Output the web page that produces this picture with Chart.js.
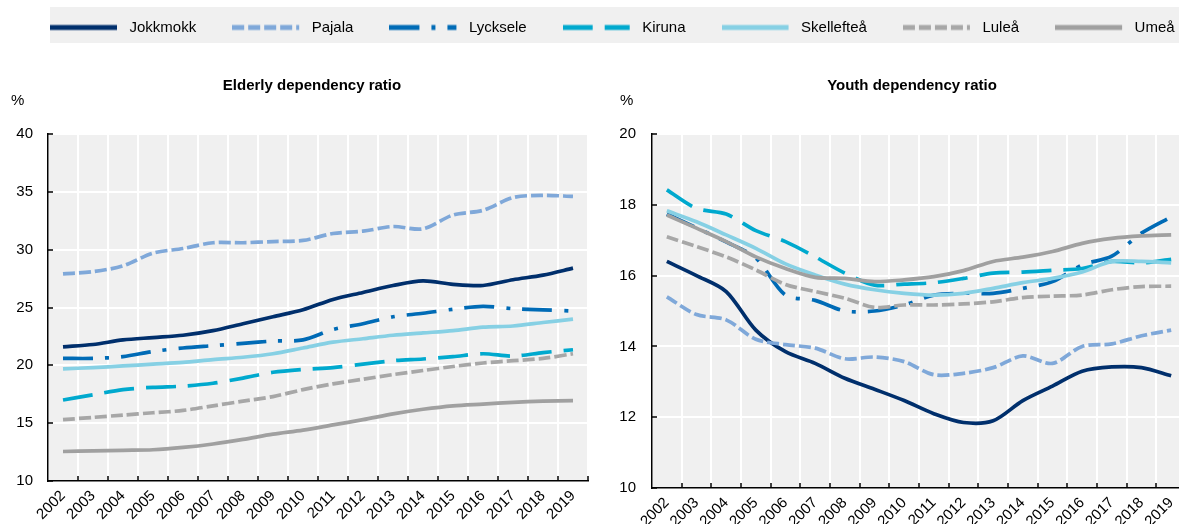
<!DOCTYPE html>
<html><head><meta charset="utf-8">
<script src="https://cdn.jsdelivr.net/npm/chart.js@4/dist/chart.umd.min.js"></script>
<style>
html,body{margin:0;padding:0;width:1179px;height:524px;overflow:hidden;background:#fff}
body{position:relative}
#legBg{position:absolute;left:50px;top:7px;width:1129px;height:36px;background:#f0f0f0}
canvas{position:absolute;display:block}
#leg{left:0;top:-16px}
#c1{left:0;top:50px}
#c2{left:604px;top:50px}
</style></head><body>
<div id="legBg"></div>
<canvas id="c1" width="600" height="474"></canvas>
<canvas id="c2" width="594" height="481"></canvas>
<canvas id="leg" width="1300" height="200"></canvas>
<script>
const years = ['2002','2003','2004','2005','2006','2007','2008','2009','2010','2011','2012','2013','2014','2015','2016','2017','2018','2019'];
const names = ['Jokkmokk','Pajala','Lycksele','Kiruna','Skellefteå','Luleå','Umeå'];

const elderlyJokkmokk  = [21.6,21.8,22.2,22.4,22.6,23.0,23.6,24.2,24.8,25.7,26.3,26.9,27.3,27.0,26.9,27.4,27.8,28.4];
const elderlyPajala    = [27.9,28.1,28.6,29.7,30.1,30.6,30.6,30.7,30.8,31.4,31.6,32.0,31.8,33.0,33.4,34.5,34.7,34.6];
const elderlyLycksele  = [20.6,20.6,20.75,21.2,21.5,21.7,21.9,22.1,22.2,23.1,23.6,24.2,24.5,24.85,25.1,24.9,24.8,24.7];
const elderlyKiruna    = [17.0,17.45,17.9,18.1,18.2,18.45,18.9,19.4,19.65,19.8,20.1,20.4,20.55,20.75,21.0,20.8,21.1,21.35];
const elderlySkelleftea= [19.7,19.8,19.95,20.1,20.25,20.5,20.7,21.0,21.5,22.0,22.3,22.6,22.8,23.0,23.3,23.4,23.7,24.0];
const elderlyLulea     = [15.3,15.5,15.7,15.9,16.1,16.5,16.9,17.3,17.9,18.4,18.8,19.2,19.55,19.9,20.2,20.4,20.6,21.0];
const elderlyUmea      = [12.55,12.6,12.65,12.7,12.9,13.2,13.6,14.05,14.4,14.85,15.3,15.8,16.2,16.5,16.65,16.8,16.9,16.95];

const youthJokkmokk  = [16.4,16.0,15.55,14.46,13.85,13.52,13.1,12.79,12.47,12.1,11.85,11.9,12.47,12.88,13.3,13.42,13.4,13.17];
const youthPajala    = [15.4,14.9,14.75,14.2,14.05,13.95,13.65,13.7,13.57,13.2,13.24,13.4,13.73,13.52,14.0,14.07,14.3,14.46];
const youthLycksele  = [17.74,17.35,16.95,16.5,15.45,15.3,15.0,15.0,15.17,15.45,15.5,15.5,15.64,15.83,16.3,16.55,17.2,17.66];
const youthKiruna    = [18.42,17.9,17.74,17.27,16.96,16.53,16.07,15.73,15.76,15.8,15.92,16.07,16.1,16.15,16.2,16.4,16.36,16.46];
const youthSkelleftea= [17.83,17.52,17.15,16.77,16.33,16.02,15.76,15.6,15.5,15.45,15.5,15.64,15.8,15.92,16.1,16.4,16.4,16.36];
const youthLulea     = [17.1,16.82,16.53,16.16,15.75,15.55,15.36,15.1,15.17,15.17,15.2,15.26,15.38,15.42,15.45,15.6,15.69,15.7];
const youthUmea      = [17.71,17.34,16.96,16.53,16.2,15.95,15.92,15.83,15.88,15.97,16.14,16.4,16.52,16.68,16.91,17.05,17.12,17.15];

const elderlyTicks = {min:10, max:40, step:5};
const youthTicks = {min:10, max:20, step:2};

const colors = ['#002F6C','#7FA8D9','#006BB6','#00A9CE','#86D0E4','#A7A7A7','#A0A0A0'];
const dashes = [[], [12,4], [30,12,4,12], [30,12], [], [12,4], []];

const FONT = "'Liberation Sans', Arial, sans-serif";

function makeDatasets(arrs){
  return arrs.map((d,i)=>({
    label: names[i], data: d, borderColor: colors[i], backgroundColor: colors[i],
    borderWidth: 3.7, borderDash: dashes[i], pointRadius: 0, tension: 0.3, fill: false,
    order: -i
  }));
}

const plotBg = { id:'plotBg', beforeDraw(chart){ const {ctx, chartArea:a} = chart; ctx.save(); ctx.fillStyle='#f0f0f0'; ctx.fillRect(a.left,a.top,a.right-a.left,a.bottom-a.top); ctx.restore(); } };
const innerTicks = { id:'innerTicks', afterDraw(chart){
  const x=chart.scales.x, y=chart.scales.y, ctx=chart.ctx;
  ctx.save(); ctx.strokeStyle='#000'; ctx.lineWidth=1.5; ctx.beginPath();
  for (let i=1;i<=x.ticks.length;i++){ const px=Math.round(x.getPixelForValue(i-0.5)); ctx.moveTo(px, y.bottom); ctx.lineTo(px, y.bottom-5); }
  y.ticks.forEach(t=>{ const py=Math.round(y.getPixelForValue(t.value)); ctx.moveTo(x.left, py); ctx.lineTo(x.left+5, py); });
  ctx.stroke(); ctx.restore(); } };
function shiftTitle(dx){ return { id:'shiftTitle', afterLayout(chart){ if (chart.titleBlock) chart.titleBlock.left += dx; } }; }

function makeChart(id, title, arrs, tk, padL, yW, padY, dx){
  return new Chart(document.getElementById(id), {
    type:'line',
    data:{ labels: years, datasets: makeDatasets(arrs) },
    options:{
      responsive:false, animation:false, devicePixelRatio:1,
      layout:{ padding:{ left:padL, right:12, top:0, bottom:0 } },
      plugins:{
        legend:{ display:false }, tooltip:{ enabled:false },
        title:{ display:true, text:title, color:'#000', font:{family:FONT, size:15, weight:'bold', lineHeight:1}, padding:{top:28, bottom:0} },
        subtitle:{ display:true, text:'%', align:'start', color:'#000', font:{family:FONT, size:15, lineHeight:1}, padding:{top:0, bottom:26} }
      },
      scales:{
        x:{ type:'category', offset:true,
            grid:{ offset:true, color:'#fff', lineWidth:2, drawTicks:false },
            border:{ display:true, color:'#000', width:1.5 },
            ticks:{ color:'#000', font:{family:FONT, size:15}, minRotation:45, maxRotation:45, autoSkip:false, padding:6 },
            afterFit(s){ s.height = 43; s.paddingLeft = 0; s.paddingRight = 0; } },
        y:{ min:tk.min, max:tk.max,
            grid:{ color:'#fff', lineWidth:2, drawTicks:false },
            border:{ display:true, color:'#000', width:1.5 },
            ticks:{ stepSize:tk.step, color:'#000', font:{family:FONT, size:15}, padding:padY },
            afterFit(s){ s.width = yW; s.paddingTop = 0; s.paddingBottom = 0; } }
      }
    },
    plugins:[plotBg, innerTicks, shiftTitle(dx)]
  });
}

makeChart('c1', 'Elderly dependency ratio',
  [elderlyJokkmokk, elderlyPajala, elderlyLycksele, elderlyKiruna, elderlySkelleftea, elderlyLulea, elderlyUmea],
  elderlyTicks, 11, 37, 15, 25);
makeChart('c2', 'Youth dependency ratio',
  [youthJokkmokk, youthPajala, youthLycksele, youthKiruna, youthSkelleftea, youthLulea, youthUmea],
  youthTicks, 16, 32, 16, 18);

function makeIcon(color, dash){
  const c = document.createElement('canvas'); c.width = 72; c.height = 8;
  const g = c.getContext('2d'); g.strokeStyle = color; g.lineWidth = 5; g.setLineDash(dash);
  g.beginPath(); g.moveTo(0,4); g.lineTo(67,4); g.stroke(); return c;
}
const icons = colors.map((c,i)=>makeIcon(c, dashes[i]));

new Chart(document.getElementById('leg'), {
  type:'line',
  data:{ labels:[], datasets: names.map((n,i)=>({label:n, data:[], borderColor:colors[i], backgroundColor:colors[i], borderDash:dashes[i]})) },
  options:{
    responsive:false, animation:false, devicePixelRatio:1,
    layout:{ padding:{ left:14, right:0, top:0, bottom:0 } },
    scales:{ x:{display:false}, y:{display:false} },
    plugins:{
      tooltip:{enabled:false},
      legend:{ display:true, position:'top', align:'start',
        labels:{ usePointStyle:true, pointStyleWidth:72, padding:36, color:'#000', font:{family:FONT, size:15},
          generateLabels(chart){ return Chart.defaults.plugins.legend.labels.generateLabels(chart).map((it,i)=>Object.assign(it,{pointStyle:icons[i]})); } } }
    }
  }
});
</script>
</body></html>
